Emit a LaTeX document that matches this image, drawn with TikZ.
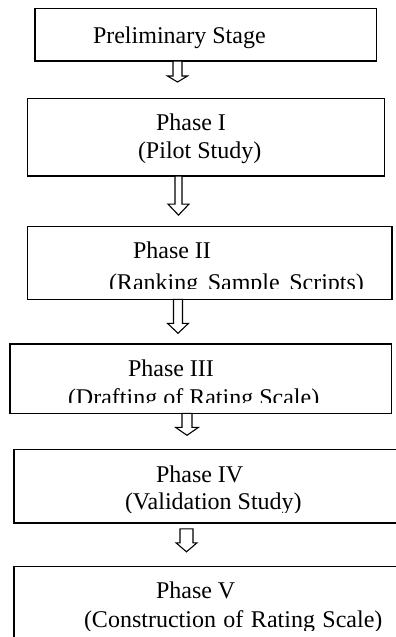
\documentclass[tikz,border=0pt]{standalone}
\usepackage{fontspec}
\setmainfont{Liberation Serif}
\begin{document}
\begin{tikzpicture}[x=1pt,y=-1pt,
  box/.style={draw=black, line width=1.4pt, inner sep=0pt, outer sep=0pt, anchor=north west},
  txt/.style={inner sep=0pt, outer sep=0pt, anchor=base west, font=\fontsize{24}{28}\selectfont, text=black},
  arr/.style={draw=black, fill=white, line width=1.1pt, line join=miter}]
\useasboundingbox (0,0) rectangle (396,637);
\clip (0,0) rectangle (396,637);
% boxes
\node[box, minimum width=341.7pt, minimum height=52.3pt] (b0) at (35,8.7) {};
\node[box, minimum width=357.2pt, minimum height=77.9pt] (b1) at (27.4,98.2) {};
\node[box, minimum width=364.6pt, minimum height=72.6pt] (b2) at (27.4,226.7) {};
\node[box, minimum width=381.3pt, minimum height=69.3pt] (b3) at (10,344) {};
\node[box, minimum width=390pt, minimum height=73.5pt] (b4) at (14,449.3) {};
\node[box, minimum width=390pt, minimum height=90pt] (b5) at (14,566.7) {};
% texts
\node[txt] (t0) at (93,43.3) {Preliminary Stage};
\node[txt] (t1a) at (156,130.7) {Phase I};
\node[txt] (t1b) at (138,158.3) {(Pilot Study)};
\node[txt] (t2a) at (133,258.3) {Phase II};
\begin{scope}
  \clip (0,0) rectangle (396,288.7);
  \node[txt] (t2b) at (109,290) {\spaceskip=9.5pt (Ranking Sample Scripts)};
\end{scope}
\node[txt] (t3a) at (128,376.7) {Phase III};
\begin{scope}
  \clip (0,0) rectangle (396,402);
  \node[txt] (t3b) at (68,405) {(Drafting of Rating Scale)};
\end{scope}
\node[txt] (t4a) at (156,482) {Phase IV};
\begin{scope}
  \clip (0,0) rectangle (396,512);
  \node[txt] (t4b) at (125,509) {(Validation Study)};
\end{scope}
\node[txt] (t5a) at (156,598) {Phase V};
\begin{scope}
  \clip (0,0) rectangle (396,630);
  \node[txt] (t5b) at (84,627) {\spaceskip=7.5pt (Construction of Rating Scale)};
\end{scope}
% block arrows
\newcommand{\blockarrow}[5]{% #1 top centre, #2 half shaft, #3 shaft length, #4 half head, #5 head length
  \draw[arr, shift={#1}] (-#2,0) -- (-#2,#3) -- (-#4,#3) -- (0,#3+#5) -- (#4,#3) -- (#2,#3) -- (#2,0) -- cycle;}
\blockarrow{(177.5,0 |- b0.south)}{4.5}{15}{10}{6}
\blockarrow{(178.5,0 |- b1.south)}{3.5}{28}{10.5}{11}
\blockarrow{(178,0 |- b2.south)}{4.5}{24}{10.5}{10}
\blockarrow{(187,0 |- b3.south)}{5}{14}{11.5}{8}
\coordinate (a4top) at ([yshift=-6pt]b4.south);
\blockarrow{(186.5,0 |- a4top)}{6.5}{14}{10.5}{9}
\end{tikzpicture}
\end{document}
